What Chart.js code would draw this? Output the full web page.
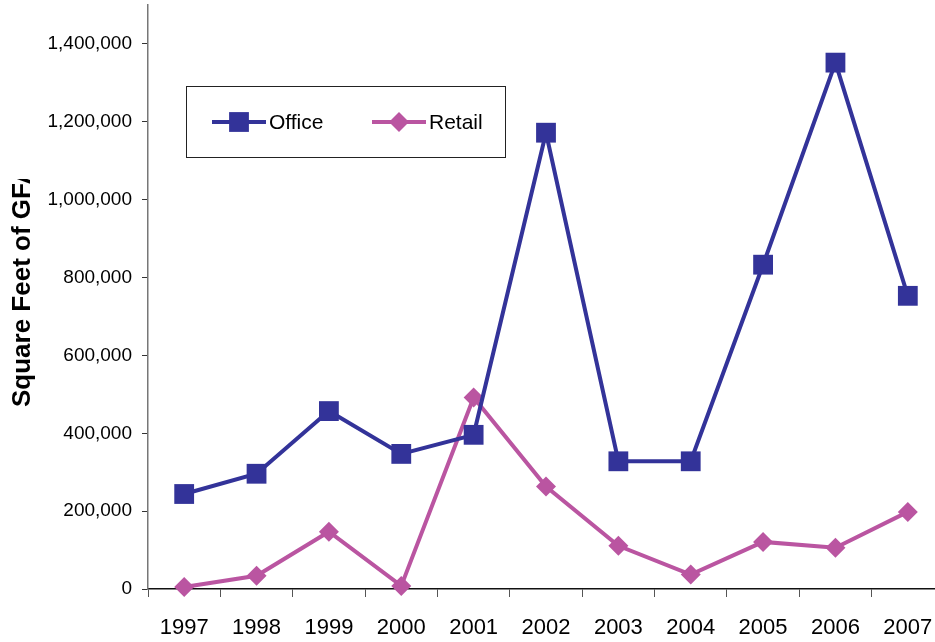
<!DOCTYPE html>
<html>
<head>
<meta charset="utf-8">
<script src="https://cdn.jsdelivr.net/npm/chart.js@4/dist/chart.umd.min.js"></script>
<style>
  html, body { margin: 0; padding: 0; background: #fff; overflow: hidden; }
  #wrap { position: relative; width: 944px; height: 642px; }
</style>
</head>
<body>
<div id="wrap"><canvas id="gfa"></canvas></div>
<script>
const years = ['1997', '1998', '1999', '2000', '2001', '2002', '2003', '2004', '2005', '2006', '2007'];
const office = [244000, 296000, 457000, 347000, 396000, 1172000, 328000, 328000, 833000, 1352000, 753000];
const retail = [5000, 34000, 147000, 8000, 492000, 263000, 111000, 37000, 121000, 106000, 198000];
const yTicks = [0, 200000, 400000, 600000, 800000, 1000000, 1200000, 1400000];

const FONT = "Arial, 'Liberation Sans', sans-serif";
const OFFICE_COLOR = '#333399';
const RETAIL_COLOR = '#BA55A1';

function marker(ctx, style, x, y, r) {
  ctx.beginPath();
  if (style === 'rect') {
    const s = r * Math.SQRT1_2;
    ctx.rect(x - s, y - s, 2 * s, 2 * s);
  } else {
    ctx.moveTo(x - r, y); ctx.lineTo(x, y - r); ctx.lineTo(x + r, y); ctx.lineTo(x, y + r);
    ctx.closePath();
  }
  ctx.fill();
}

// boxed legend sitting inside the plot, like the Excel original
const boxLegend = {
  id: 'boxLegend',
  afterDraw(chart) {
    const ctx = chart.ctx;
    ctx.save();
    ctx.fillStyle = '#fff';
    ctx.fillRect(186, 86, 319, 71);
    ctx.strokeStyle = '#222';
    ctx.lineWidth = 1;
    ctx.strokeRect(186.5, 86.5, 319, 71);
    const items = [{ x: 212 }, { x: 372 }];
    chart.data.datasets.forEach((ds, i) => {
      const x0 = items[i].x, y = 122;
      ctx.strokeStyle = ds.borderColor;
      ctx.lineWidth = 4;
      ctx.beginPath(); ctx.moveTo(x0, y); ctx.lineTo(x0 + 54, y); ctx.stroke();
      ctx.fillStyle = ds.backgroundColor;
      marker(ctx, ds.pointStyle, x0 + 27, y, ds.pointRadius);
      ctx.fillStyle = '#000';
      ctx.font = '21px ' + FONT;
      ctx.textBaseline = 'middle';
      ctx.fillText(ds.label, x0 + 57, y + 1);
    });
    ctx.restore();
  }
};

// y axis title, cut off at the top as in the reference
const yTitle = {
  id: 'yTitle',
  afterDraw(chart) {
    const ctx = chart.ctx;
    ctx.save();
    ctx.beginPath(); ctx.rect(0, 179, 100, 642); ctx.clip();
    ctx.translate(23, 407);
    ctx.rotate(-Math.PI / 2);
    ctx.font = 'bold 26px ' + FONT;
    ctx.fillStyle = '#000';
    ctx.textAlign = 'left';
    ctx.textBaseline = 'middle';
    ctx.fillText('Square Feet of GFA', 0, 0);
    ctx.restore();
  }
};

new Chart(document.getElementById('gfa'), {
  type: 'line',
  data: {
    labels: years,
    datasets: [{
      label: 'Office',
      data: office,
      borderColor: OFFICE_COLOR,
      backgroundColor: OFFICE_COLOR,
      borderWidth: 4,
      pointStyle: 'rect',
      pointRadius: 14,
      pointBorderWidth: 0,
      tension: 0,
      clip: false
    }, {
      label: 'Retail',
      data: retail,
      borderColor: RETAIL_COLOR,
      backgroundColor: RETAIL_COLOR,
      borderWidth: 4,
      pointStyle: 'rectRot',
      pointRadius: 10,
      pointBorderWidth: 0,
      tension: 0,
      clip: false
    }]
  },
  options: {
    responsive: true,
    maintainAspectRatio: false,
    animation: false,
    layout: { autoPadding: false, padding: { top: 5, left: 0, right: 0, bottom: 0 } },
    plugins: { legend: { display: false }, tooltip: { enabled: false } },
    scales: {
      x: {
        offset: true,
        grid: { offset: true, drawOnChartArea: false, drawTicks: true, tickLength: 8, color: '#333', tickColor: '#555' },
        border: { color: '#111', width: 1.5 },
        ticks: { color: '#000', font: { family: FONT, size: 22 }, padding: 18, maxRotation: 0, autoSkip: false },
        afterFit: s => { s.height = 53; s.paddingLeft = 0; s.paddingRight = 0; }
      },
      y: {
        min: 0,
        max: 1500000,
        afterBuildTicks: s => { s.ticks = yTicks.map(v => ({ value: v })); },
        grid: { drawOnChartArea: false, drawTicks: true, tickLength: 6, tickColor: '#333' },
        border: { color: '#777', width: 1.5 },
        ticks: {
          color: '#000',
          font: { family: FONT, size: 19 },
          padding: 10,
          callback: v => v.toLocaleString('en-US')
        },
        afterFit: s => { s.width = 148; s.paddingTop = 0; s.paddingBottom = 0; }
      }
    }
  },
  plugins: [boxLegend, yTitle]
});
</script>
</body>
</html>
